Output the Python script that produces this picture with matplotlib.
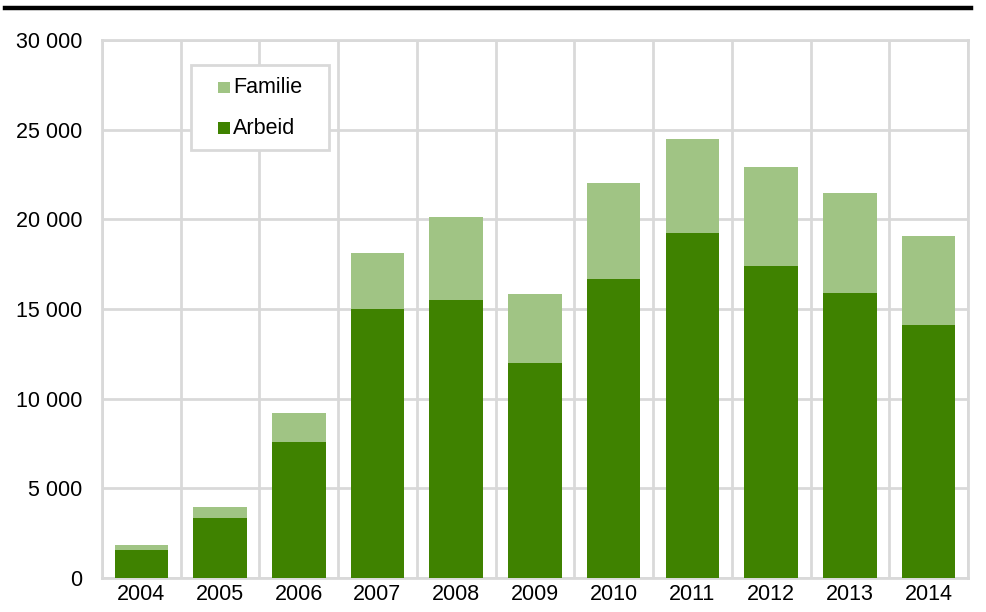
import numpy as np
import matplotlib.pyplot as plt
from matplotlib.lines import Line2D
from matplotlib.patches import Rectangle
from matplotlib.ticker import FuncFormatter

plt.rcParams['font.family'] = ['Liberation Sans', 'DejaVu Sans']

years = ['2004', '2005', '2006', '2007', '2008', '2009', '2010', '2011', '2012', '2013', '2014']
arbeid = [1560, 3350, 7580, 15000, 15500, 11990, 16680, 19240, 17400, 15900, 14110]
totaal = [1840, 3960, 9200, 18130, 20130, 15840, 22030, 24480, 22920, 21470, 19070]
familie = [t - a for t, a in zip(totaal, arbeid)]

dark = '#3f8200'
light = '#a0c484'
grid = '#d9d9d9'

W, H = 986, 612
fig = plt.figure(figsize=(W / 100, H / 100), dpi=100)
ax = fig.add_axes([0.1034, 0.0556, 0.8783, 0.879])

x = np.arange(len(years))
ax.bar(x, arbeid, width=0.68, color=dark, zorder=3)
ax.bar(x, familie, width=0.68, bottom=arbeid, color=light, zorder=3)

ax.set_xlim(-0.5, len(years) - 0.5)
ax.set_ylim(0, 30000)
ax.set_yticks(np.arange(0, 30001, 5000))
ax.yaxis.set_major_formatter(FuncFormatter(lambda v, p: f'{int(v):,}'.replace(',', ' ')))
ax.set_xticks(x)
ax.set_xticklabels(years)
ax.set_xticks(np.arange(-0.5, len(years)), minor=True)

ax.grid(axis='y', which='major', color=grid, lw=2, zorder=0)
ax.grid(axis='x', which='minor', color=grid, lw=2, zorder=0)
ax.tick_params(which='both', length=0, labelsize=15.5, colors='black')
ax.tick_params(axis='x', pad=4)
ax.tick_params(axis='y', pad=14)
for s in ax.spines.values():
    s.set_color(grid)
    s.set_linewidth(2)

# legend box drawn by hand (Familie above Arbeid), positions in pixels
def fx(px):
    return px / W

def fy(py):
    return 1 - py / H

fig.add_artist(Rectangle((fx(191), fy(150)), fx(329) - fx(191), fy(65) - fy(150),
                         transform=fig.transFigure, facecolor='white',
                         edgecolor=grid, lw=2, zorder=5))
for label, color, yc in [('Familie', light, 87.5), ('Arbeid', dark, 128)]:
    fig.add_artist(Rectangle((fx(218), fy(yc + 5.5)), 12 / W, 11 / H,
                             transform=fig.transFigure, facecolor=color,
                             edgecolor='none', zorder=6))
    fig.text(fx(233), fy(yc), label, fontsize=15.5, va='center', ha='left', zorder=6)

# black rule across the top
fig.add_artist(Line2D([0.005, 0.985], [1 - 7.5 / H, 1 - 7.5 / H],
                      color='black', lw=3.2, transform=fig.transFigure))

fig.savefig('out.png', dpi=100)
